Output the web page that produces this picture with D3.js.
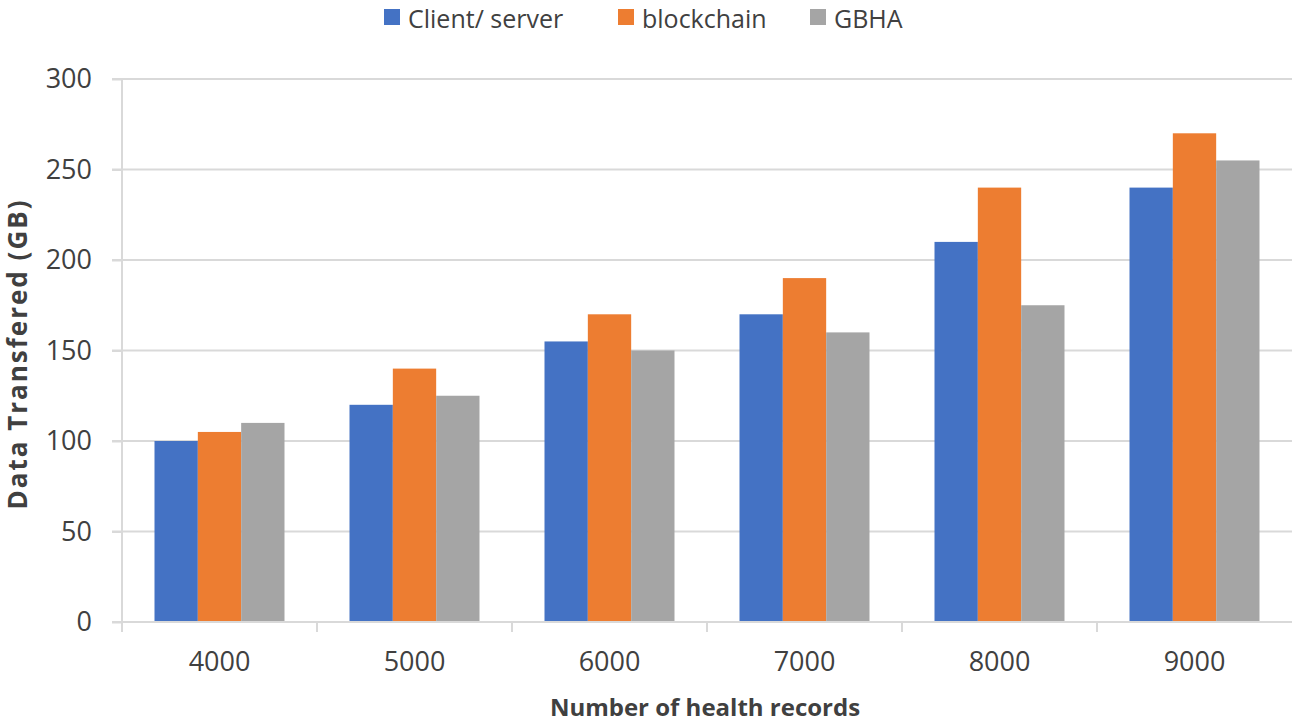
<!DOCTYPE html>
<html>
<head>
<meta charset="utf-8">
<script src="https://cdn.jsdelivr.net/npm/d3@7"></script>
<style>
body{margin:0;background:#fff;}
text{font-family:"Open Sans",sans-serif;fill:#404040;}
</style>
</head>
<body>
<div id="chart"></div>
<script>
var categories = ["4000","5000","6000","7000","8000","9000"]
var seriesNames = ["Client/ server","blockchain","GBHA"]
var clientServer = [100,120,155,170,210,240]
var blockchain = [105,140,170,190,240,270]
var gbha = [110,125,150,160,175,255]
var yTicks = [0,50,100,150,200,250,300]

var colors = ["#4472c4","#ed7d31","#a5a5a5"]
var seriesValues = [clientServer,blockchain,gbha]

var svg = d3.select("#chart")
.append("svg")
.attr("width",1300)
.attr("height",723)

var plotLeft = 122, plotRight = 1292, plotTop = 79, plotBottom = 622

var xScale = d3.scaleBand()
.domain(categories)
.range([plotLeft,plotRight])

var xInner = d3.scaleBand()
.domain(seriesNames)
.range([0,xScale.bandwidth()])
.paddingInner(0)
.paddingOuter(0.75)

var yScale = d3.scaleLinear()
.domain([0,300])
.range([plotBottom,plotTop])

// gridlines
svg.append("g")
.selectAll("line")
.data(yTicks.filter(function(d){return d>0}))
.enter().append("line")
.attr("x1",112).attr("x2",plotRight)
.attr("y1",function(d){return yScale(d)})
.attr("y2",function(d){return yScale(d)})
.attr("stroke","#d9d9d9").attr("stroke-width",2)

// bars
categories.forEach(function(c,i){
  seriesNames.forEach(function(s,j){
    svg.append("rect")
    .attr("x",xScale(c)+xInner(s))
    .attr("width",xInner.bandwidth())
    .attr("y",yScale(seriesValues[j][i]))
    .attr("height",plotBottom-yScale(seriesValues[j][i]))
    .attr("fill",colors[j])
  })
})

// y axis
var yAxis = d3.axisLeft(yScale).tickValues(yTicks).tickSize(10).tickPadding(20)
var gy = svg.append("g").attr("transform","translate("+plotLeft+",0)").call(yAxis)
gy.selectAll("line").attr("stroke","#d9d9d9").attr("stroke-width",2)
gy.select(".domain").attr("stroke","#d9d9d9").attr("stroke-width",2).attr("d","M0,"+plotTop+"V"+(plotBottom+10))
gy.selectAll("text").style("font-size","27px").attr("fill","#404040")

// x axis
var xAxis = d3.axisBottom(xScale).tickSize(0).tickPadding(30)
var gx = svg.append("g").attr("transform","translate(0,"+plotBottom+")").call(xAxis)
gx.select(".domain").attr("stroke","#d9d9d9").attr("stroke-width",2).attr("d","M112,0H"+plotRight)
gx.selectAll("text").style("font-size","27px").attr("fill","#404040")
gx.selectAll(".sep")
.data(categories.slice(1))
.enter().append("line")
.attr("x1",function(d){return xScale(d)}).attr("x2",function(d){return xScale(d)})
.attr("y1",0).attr("y2",10)
.attr("stroke","#d9d9d9").attr("stroke-width",2)

// axis titles
svg.append("text")
.text("Number of health records")
.attr("x",(plotLeft+plotRight)/2-2)
.attr("y",716)
.attr("text-anchor","middle")
.style("font-size","24px").style("font-weight","bold").attr("fill","#262626")

svg.append("text")
.text("Data Transfered (GB)")
.attr("transform","translate(27,354) rotate(-90)")
.attr("text-anchor","middle")
.style("font-size","26px").style("font-weight","bold").style("letter-spacing","2px").attr("fill","#262626")

// legend
var legendX = [384,618,810]
seriesNames.forEach(function(s,j){
  svg.append("rect").attr("x",legendX[j]).attr("y",9).attr("width",16).attr("height",16).attr("fill",colors[j])
  svg.append("text").text(s).attr("x",legendX[j]+24).attr("y",28)
  .style("font-size","25px").attr("fill","#404040")
})
</script>
</body>
</html>
